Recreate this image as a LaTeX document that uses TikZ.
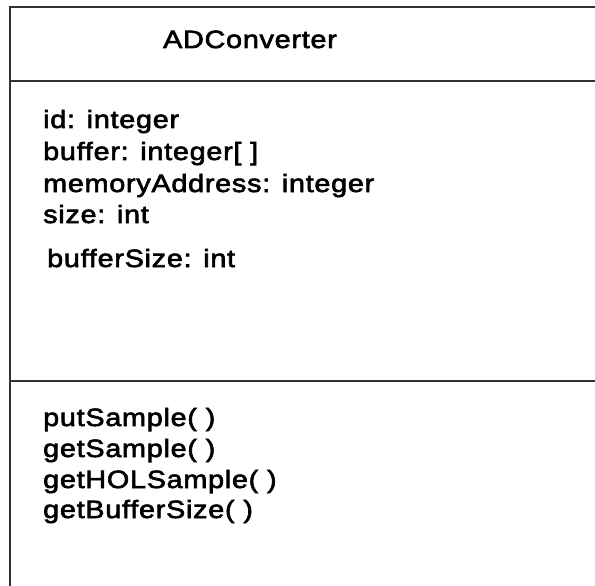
\documentclass[tikz,border=0pt]{standalone}
\usepackage{fontspec}
\setmainfont{Liberation Sans}[FakeStretch=1.15,LetterSpace=3,FakeBold=2.5]
\begin{document}
\begin{tikzpicture}[x=1pt,y=-1pt,
  umltext/.style={inner sep=0pt,anchor=base west,font=\fontsize{25}{29}\selectfont},
  umltitle/.style={inner sep=0pt,anchor=base,font=\fontsize{25}{29}\selectfont},
  frame/.style={line width=2pt,draw=black!80}]
\useasboundingbox (0,0) rectangle (595,586);
% class box (open to the right and bottom)
\coordinate (tl) at (10,7);
\coordinate (bl) at (10,590);
\coordinate (tr) at (600,7);
\coordinate (d1l) at (10,81);
\coordinate (d1r) at (600,81);
\coordinate (d2l) at (10,381);
\coordinate (d2r) at (600,381);
\draw[frame] (tr) -- (tl) -- (bl);
\draw[frame] (d1l) -- (d1r);
\draw[frame] (d2l) -- (d2r);
% class name
\node[umltitle] (name) at (250,48) {ADConverter};
% attributes
\node[umltext] (a1) at (43,128) {id: integer};
\node[umltext] (a2) at (43,160) {buffer: integer[ ]};
\node[umltext] (a3) at (43,192) {memoryAddress: integer};
\node[umltext] (a4) at (43,223) {size: int};
\node[umltext] (a5) at (47,267) {bufferSize: int};
% operations
\node[umltext] (m1) at (43,426) {putSample( )};
\node[umltext] (m2) at (43,457) {getSample( )};
\node[umltext] (m3) at (43,488) {getHOLSample( )};
\node[umltext] (m4) at (43,518) {getBufferSize( )};
\end{tikzpicture}
\end{document}
